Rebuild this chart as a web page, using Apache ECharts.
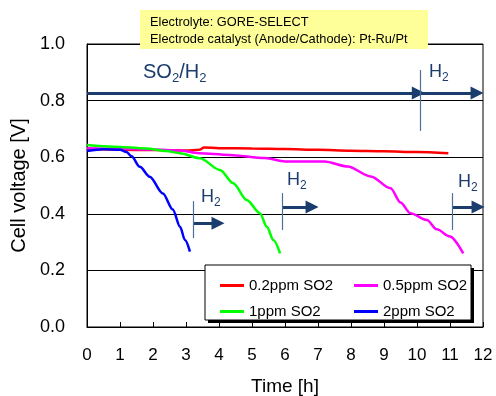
<!DOCTYPE html>
<html>
<head>
<meta charset="utf-8">
<script src="https://cdn.jsdelivr.net/npm/echarts@6/dist/echarts.min.js"></script>
<style>
  html, body { margin: 0; padding: 0; background: #fff; }
  #main { width: 496px; height: 396px; }
</style>
</head>
<body>
<div id="main"></div>
<script>
// data: [time h, cell voltage V]
var seriesNames = ['0.2ppm SO2', '0.5ppm SO2', '1ppm SO2', '2ppm SO2'];
var seriesColors = ['#FF0000', '#FF00FF', '#00FF00', '#0000FF'];
var red02 = [[0,0.625],[0.5,0.628],[1,0.626],[2,0.625],[3,0.624],[3.4,0.626],[3.55,0.634],[4,0.632],[5,0.631],[6,0.629],[7,0.626],[8,0.623],[9,0.621],[10,0.618],[10.95,0.614]];
var mag05 = [[0,0.632],[1,0.63],[2,0.627],[2.8,0.624],[3.4,0.614],[4.3,0.608],[5.4,0.597],[6.0,0.585],[7.2,0.585],[7.9,0.567],[8.6,0.532],[9.2,0.49],[9.5,0.44],[9.8,0.402],[10.3,0.378],[10.6,0.345],[11.0,0.32],[11.4,0.26]];
var green1 = [[0,0.643],[0.8,0.637],[1.8,0.631],[2.4,0.622],[2.82,0.614],[3.42,0.596],[4.03,0.555],[4.43,0.508],[4.84,0.449],[5.24,0.402],[5.45,0.354],[5.65,0.307],[5.85,0.26]];
var blue2 = [[0,0.622],[0.5,0.628],[1.0,0.626],[1.2,0.618],[1.35,0.603],[1.6,0.566],[1.9,0.531],[2.3,0.472],[2.6,0.415],[2.82,0.354],[2.97,0.307],[3.12,0.266]];
var xTicks = [0,1,2,3,4,5,6,7,8,9,10,11,12];
var yTicks = [0,0.2,0.4,0.6,0.8,1.0];

// gas switch marks: arrows [from x, to x, y] and vertical lines [x, y0, y1]
var bigArrows = [[0,10.04,0.827],[10.1,11.82,0.827]];
var smallArrows = [[3.22,3.97,0.367],[5.91,6.82,0.424],[11.06,11.85,0.424]];
var switchLines = [[10.1,0.693,0.908],[3.22,0.314,0.445],[5.91,0.343,0.473],[11.06,0.343,0.473]];

var navy = '#1B3D6D';
var font = 'Liberation Sans';

var myChart = echarts.init(document.getElementById('main'));

var arrowData = [];
bigArrows.concat(smallArrows).forEach(function (a) {
  arrowData.push([{coord:[a[0],a[2]]},{coord:[a[1],a[2]]}]);
});
var vData = switchLines.map(function (l) {
  return [{coord:[l[0],l[1]]},{coord:[l[0],l[2]]}];
});

var lineData = [red02, mag05, green1, blue2];
var series = lineData.map(function (d, i) {
  return {
    name: seriesNames[i],
    type: 'line',
    data: d,
    showSymbol: false,
    smooth: 0.3,
    smoothMonotone: 'x',
    lineStyle: { color: seriesColors[i], width: 2.5 },
    itemStyle: { color: seriesColors[i] },
    z: 3
  };
});
series.push({
  type: 'line',
  data: [],
  silent: true,
  markLine: {
    silent: true,
    symbol: ['none','triangle'],
    symbolSize: [13, 13],
    label: { show: false },
    lineStyle: { color: navy, width: 3, type: 'solid' },
    data: arrowData
  }
});
series.push({
  type: 'line',
  data: [],
  silent: true,
  markLine: {
    silent: true,
    symbol: ['none','none'],
    label: { show: false },
    lineStyle: { color: '#4F6E96', width: 1.2, type: 'solid' },
    data: vData
  }
});

function h2(left, top) {
  return { type: 'text', z: 20, left: left, top: top,
    style: { text: 'H{s|2}', fontSize: 18, fontFamily: font, fill: navy,
      rich: { s: { fontSize: 12, fontFamily: font, fill: navy, padding: [11,0,0,0] } } } };
}

var legendText = { fontSize: 15, color: '#000', fontFamily: font };

var option = {
  backgroundColor: '#fff',
  animation: false,
  textStyle: { fontFamily: font },
  grid: {
    left: 87, right: 13, top: 44, bottom: 69,
    outerBoundsMode: 'none', containLabel: false,
    show: true, borderColor: '#000', borderWidth: 1
  },
  legend: [
    {
      data: [seriesNames[0], seriesNames[2]],
      orient: 'vertical', left: 215, top: 273,
      itemWidth: 24, itemHeight: 3, itemGap: 11, icon: 'rect',
      textStyle: legendText, z: 10
    },
    {
      data: [seriesNames[1], seriesNames[3]],
      orient: 'vertical', left: 349, top: 273,
      itemWidth: 24, itemHeight: 3, itemGap: 11, icon: 'rect',
      textStyle: legendText, z: 10
    }
  ],
  xAxis: {
    type: 'value', min: xTicks[0], max: xTicks[xTicks.length-1], interval: 1,
    name: 'Time [h]', nameLocation: 'middle', nameGap: 50,
    nameTextStyle: { fontSize: 19, color: '#000', fontFamily: font },
    axisLine: { show: true, lineStyle: { color: '#000', width: 1 } },
    axisTick: { show: true, inside: true, length: 5, lineStyle: { color: '#000' } },
    axisLabel: { fontSize: 17, color: '#000', margin: 20, fontFamily: font },
    splitLine: { show: false }
  },
  yAxis: {
    type: 'value', min: yTicks[0], max: yTicks[yTicks.length-1], interval: 0.2,
    name: 'Cell voltage [V]', nameLocation: 'middle', nameGap: 51,
    nameTextStyle: { fontSize: 20, color: '#000', fontFamily: font },
    axisLine: { show: true, lineStyle: { color: '#000', width: 1 } },
    axisTick: { show: false },
    axisLabel: { fontSize: 18, color: '#000', margin: 22, fontFamily: font,
      formatter: function (v) { return v.toFixed(1); } },
    splitLine: { show: true, lineStyle: { color: '#000', width: 1 } }
  },
  graphic: [
    { type: 'rect', z: 50, shape: { x: 140, y: 10, width: 288, height: 39 },
      style: { fill: '#FFFF99' } },
    { type: 'text', z: 51, left: 150, top: 16,
      style: { text: 'Electrolyte: GORE-SELECT', fontSize: 12.8, fontFamily: font, fill: '#000' } },
    { type: 'text', z: 51, left: 150, top: 33,
      style: { text: 'Electrode catalyst (Anode/Cathode): Pt-Ru/Pt', fontSize: 12.8, fontFamily: font, fill: '#000' } },
    { type: 'rect', z: 8, shape: { x: 208, y: 268, width: 266, height: 55 },
      style: { fill: '#000' } },
    { type: 'rect', z: 9, shape: { x: 205, y: 265, width: 266, height: 55 },
      style: { fill: '#fff', stroke: '#000', lineWidth: 1 } },
    { type: 'text', z: 20, left: 143, top: 62,
      style: { text: 'SO{s|2}/H{s|2}', fontSize: 20, fontFamily: font, fill: navy,
        rich: { s: { fontSize: 13, fontFamily: font, fill: navy, padding: [12,0,0,0] } } } },
    h2(429, 63),
    h2(201, 188),
    h2(287, 171),
    h2(458, 173)
  ],
  series: series
};
myChart.setOption(option);
</script>
</body>
</html>
